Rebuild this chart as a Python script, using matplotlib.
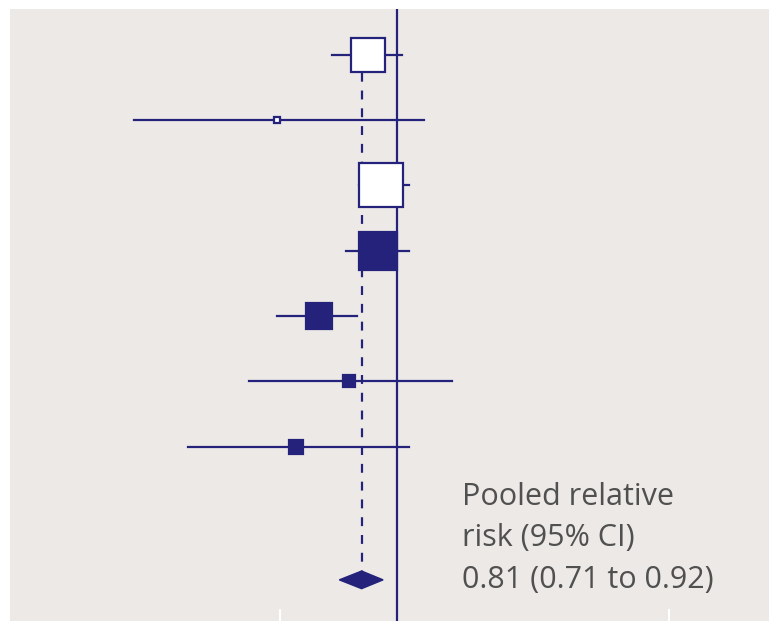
import numpy as np
import matplotlib
matplotlib.use("Agg")
import matplotlib.pyplot as plt

# study estimates (relative risk, 95% CI)
rr = [0.84, 0.49, 0.91, 0.89, 0.63, 0.75, 0.55]
lo = [0.68, 0.21, 0.80, 0.74, 0.49, 0.415, 0.29]
hi = [1.03, 1.17, 1.07, 1.07, 0.79, 1.38, 1.07]
weight = [20.0, 0.7, 35.5, 25.1, 12.4, 2.6, 3.6]   # % weight -> box area
filled = [False, False, False, True, True, True, True]

pooled, pooled_lo, pooled_hi = 0.81, 0.71, 0.92
ticks = [0.5, 5]

navy = "#24227a"
bg = "#ece9e6"

fig = plt.figure(figsize=(7.69, 6.21), dpi=100)
ax = fig.add_axes([10 / 769, 0, 759 / 769, 612 / 621])
ax.set_facecolor(bg)
ax.set_xscale("log")
ax.set_xlim(0.101, 9.04)
ax.set_ylim(9.67, 0.3)

rows = np.arange(1, len(rr) + 1)
pooled_row = len(rr) + 2.04

# reference line and pooled estimate line
ax.axvline(1, color=navy, lw=1.6, zorder=2)
ax.plot([pooled, pooled], [rows[0], pooled_row], color=navy, lw=1.6,
        ls=(0, (4, 4)), zorder=1)

px_per_pt = 100 / 72
for y, m, l, h, w, f in zip(rows, rr, lo, hi, weight, filled):
    ax.plot([l, h], [y, y], color=navy, lw=1.6, zorder=3)
    side = 7.4 * np.sqrt(w) / px_per_pt
    ax.plot(m, y, marker="s", ms=side, mfc=navy if f else "white",
            mec=navy, mew=1.6, zorder=4)

# pooled diamond
ax.fill([pooled_lo, pooled, pooled_hi, pooled],
        [pooled_row, pooled_row - 0.135, pooled_row, pooled_row + 0.135],
        color=navy, zorder=4)

ax.text(1.47, 9.16, "Pooled relative\nrisk (95% CI)\n0.81 (0.71 to 0.92)",
        fontsize=22, color="#505050", family="Open Sans",
        va="baseline", ha="left", linespacing=1.5)

ax.set_xticks(ticks)
ax.set_xticks([], minor=True)
ax.tick_params(axis="x", direction="in", length=9, width=1.5,
               color="white", labelbottom=False)
ax.set_yticks([])
for s in ax.spines.values():
    s.set_visible(False)

fig.savefig("out.png", dpi=100, facecolor="white")
